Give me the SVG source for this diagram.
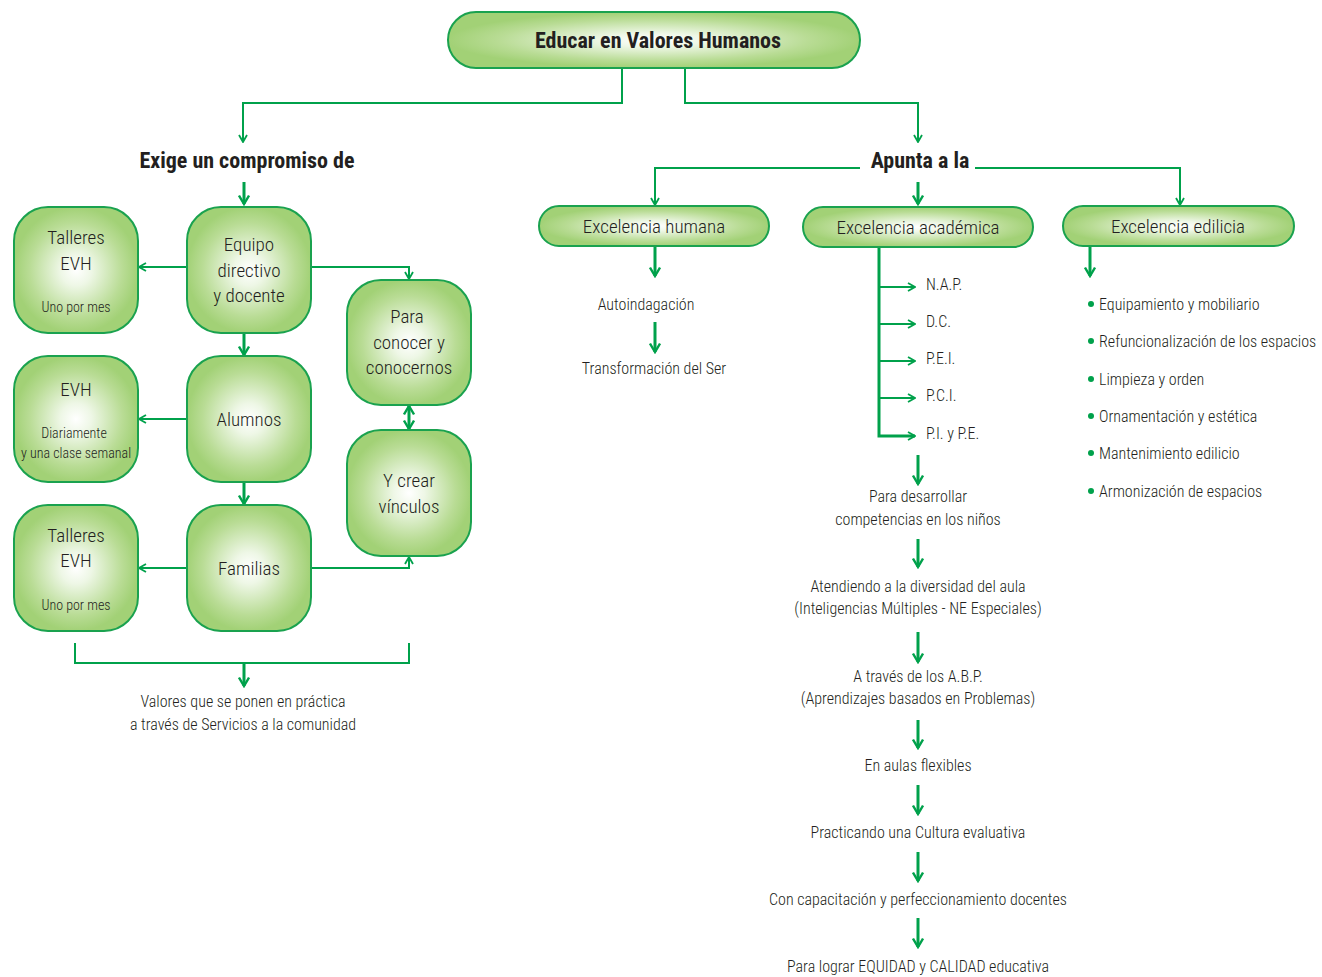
<svg xmlns="http://www.w3.org/2000/svg" width="1322" height="977" viewBox="0 0 1322 977">
<defs>
<radialGradient id="g">
<stop offset="0" stop-color="#ffffff"/>
<stop offset="0.25" stop-color="#eef7e6"/>
<stop offset="0.75" stop-color="#b9dc95"/>
<stop offset="1" stop-color="#a2d176"/>
</radialGradient>
<marker id="ah" viewBox="0 0 10 10" refX="9" refY="5" markerWidth="10" markerHeight="10" markerUnits="userSpaceOnUse" orient="auto">
<path d="M2,1 L9,5 L2,9" fill="none" stroke="#00a14b" stroke-width="1.8"/>
</marker>
<marker id="ah2" viewBox="0 0 12 12" refX="10.5" refY="6" markerWidth="12" markerHeight="12" markerUnits="userSpaceOnUse" orient="auto">
<path d="M2,1 L10.5,6 L2,11" fill="none" stroke="#00a14b" stroke-width="2.4"/>
</marker>
<marker id="as" viewBox="0 0 12 12" refX="10.5" refY="6" markerWidth="12" markerHeight="12" markerUnits="userSpaceOnUse" orient="auto-start-reverse">
<path d="M2,1 L10.5,6 L2,11" fill="none" stroke="#00a14b" stroke-width="2.4"/>
</marker>
</defs>
<style>
text{font-family:"Liberation Sans Narrow","Roboto Condensed","DejaVu Sans Condensed","Liberation Sans",sans-serif;font-stretch:condensed;font-weight:300;fill:#231f20;text-anchor:middle}
.b{font-weight:bold}
.h{font-size:22px}
.t{font-size:16px}
.bx{font-size:19px}
.s{font-size:14px}
.l{text-anchor:start}
.node{fill:url(#g);stroke:#1aa24f;stroke-width:2}
.c{fill:none;stroke:#00a14b;stroke-width:2}
.c2{fill:none;stroke:#00a14b;stroke-width:3}
.dot{fill:#00a14b}
</style>
<rect width="1322" height="977" fill="#ffffff"/>

<g id="connectors">
<path class="c" d="M622,68 V103 H243 V142" marker-end="url(#ah)"/>
<path class="c" d="M685,68 V103 H918 V142" marker-end="url(#ah)"/>
<path class="c2" d="M244,182 V204" marker-end="url(#ah2)"/>
<path class="c2" d="M918,182 V204" marker-end="url(#ah2)"/>
<path class="c" d="M860,168 H655 V205" marker-end="url(#ah)"/>
<path class="c" d="M975,168 H1180 V205" marker-end="url(#ah)"/>
<path class="c" d="M187,267 H139" marker-end="url(#ah)"/>
<path class="c" d="M311,267 H409 V279" marker-end="url(#ah)"/>
<path class="c2" d="M244,333 V355" marker-end="url(#ah2)"/>
<path class="c" d="M187,419 H139" marker-end="url(#ah)"/>
<path class="c2" d="M244,482 V504" marker-end="url(#ah2)"/>
<path class="c" d="M187,568 H139" marker-end="url(#ah)"/>
<path class="c" d="M311,568 H409 V557" marker-end="url(#ah)"/>
<path class="c2" d="M409,406 V429" marker-start="url(#as)" marker-end="url(#as)"/>
<path class="c" d="M75,643 V663 H409 V643"/>
<path class="c2" d="M244,663 V686" marker-end="url(#ah2)"/>
<path class="c2" d="M655,247 V276" marker-end="url(#ah2)"/>
<path class="c2" d="M655,322 V352" marker-end="url(#ah2)"/>
<path class="c2" d="M879,247 V436 H915" marker-end="url(#ah)"/>
<path class="c" d="M879,287 H915" marker-end="url(#ah)"/>
<path class="c" d="M879,324 H915" marker-end="url(#ah)"/>
<path class="c" d="M879,361 H915" marker-end="url(#ah)"/>
<path class="c" d="M879,398 H915" marker-end="url(#ah)"/>
<path class="c2" d="M918,455 V484" marker-end="url(#ah2)"/>
<path class="c2" d="M918,539 V567" marker-end="url(#ah2)"/>
<path class="c2" d="M918,632 V662" marker-end="url(#ah2)"/>
<path class="c2" d="M918,720 V748" marker-end="url(#ah2)"/>
<path class="c2" d="M918,785 V814" marker-end="url(#ah2)"/>
<path class="c2" d="M918,852 V881" marker-end="url(#ah2)"/>
<path class="c2" d="M918,918 V947" marker-end="url(#ah2)"/>
<path class="c2" d="M1090,246 V276" marker-end="url(#ah2)"/>
</g>

<g id="title">
<rect class="node" x="448" y="12" width="412" height="56" rx="28"/>
<text class="b h" x="658" y="48">Educar en Valores Humanos</text>
</g>

<g id="exige"><text class="b" style="font-size:22px" x="247" y="168">Exige un compromiso de</text></g>
<g id="apunta"><text class="b" style="font-size:22px" x="920" y="168">Apunta a la</text></g>

<g id="talleres1">
<rect class="node" x="14" y="207" width="124" height="126" rx="34"/>
<text class="bx" x="76" y="244">Talleres</text>
<text class="bx" x="76" y="270">EVH</text>
<text class="s" x="76" y="312">Uno por mes</text>
</g>
<g id="equipo">
<rect class="node" x="187" y="207" width="124" height="126" rx="34"/>
<text class="bx" x="249" y="251">Equipo</text>
<text class="bx" x="249" y="277">directivo</text>
<text class="bx" x="249" y="302">y docente</text>
</g>
<g id="para">
<rect class="node" x="347" y="280" width="124" height="125" rx="34"/>
<text class="bx" x="407" y="323">Para</text>
<text class="bx" x="409" y="349">conocer y</text>
<text class="bx" x="409" y="374">conocernos</text>
</g>
<g id="evh">
<rect class="node" x="14" y="356" width="124" height="126" rx="34"/>
<text class="bx" x="76" y="396">EVH</text>
<text class="s" x="74" y="438">Diariamente</text>
<text class="s" x="76" y="458">y una clase semanal</text>
</g>
<g id="alumnos">
<rect class="node" x="187" y="356" width="124" height="126" rx="34"/>
<text class="bx" x="249" y="426">Alumnos</text>
</g>
<g id="vinculos">
<rect class="node" x="347" y="430" width="124" height="126" rx="34"/>
<text class="bx" x="409" y="487">Y crear</text>
<text class="bx" x="409" y="513">vínculos</text>
</g>
<g id="talleres2">
<rect class="node" x="14" y="505" width="124" height="126" rx="34"/>
<text class="bx" x="76" y="542">Talleres</text>
<text class="bx" x="76" y="567">EVH</text>
<text class="s" x="76" y="610">Uno por mes</text>
</g>
<g id="familias">
<rect class="node" x="187" y="505" width="124" height="126" rx="34"/>
<text class="bx" x="249" y="575">Familias</text>
</g>
<g id="valores">
<text class="t" x="243" y="707">Valores que se ponen en práctica</text>
<text class="t" x="243" y="730">a través de Servicios a la comunidad</text>
</g>

<g id="exc-humana">
<rect class="node" x="539" y="206" width="230" height="40" rx="20"/>
<text class="bx" x="654" y="233">Excelencia humana</text>
</g>
<g id="exc-academica">
<rect class="node" x="803" y="207" width="230" height="40" rx="20"/>
<text class="bx" x="918" y="234">Excelencia académica</text>
</g>
<g id="exc-edilicia">
<rect class="node" x="1063" y="206" width="231" height="40" rx="20"/>
<text class="bx" x="1178" y="233">Excelencia edilicia</text>
</g>

<g id="humana-items">
<text class="t" x="646" y="310">Autoindagación</text>
<text class="t" x="654" y="374">Transformación del Ser</text>
</g>

<g id="academica-items">
<text class="t l" x="926" y="290">N.A.P.</text>
<text class="t l" x="926" y="327">D.C.</text>
<text class="t l" x="926" y="364">P.E.I.</text>
<text class="t l" x="926" y="401">P.C.I.</text>
<text class="t l" x="926" y="439">P.I. y P.E.</text>
<text class="t" x="918" y="502">Para desarrollar</text>
<text class="t" x="918" y="525">competencias en los niños</text>
<text class="t" x="918" y="592">Atendiendo a la diversidad del aula</text>
<text class="t" x="918" y="614">(Inteligencias Múltiples - NE Especiales)</text>
<text class="t" x="918" y="682">A través de los A.B.P.</text>
<text class="t" x="918" y="704">(Aprendizajes basados en Problemas)</text>
<text class="t" x="918" y="771">En aulas flexibles</text>
<text class="t" x="918" y="838">Practicando una Cultura evaluativa</text>
<text class="t" x="918" y="905">Con capacitación y perfeccionamiento docentes</text>
<text class="t" x="918" y="972">Para lograr EQUIDAD y CALIDAD educativa</text>
</g>

<g id="edilicia-items">
<circle class="dot" cx="1091" cy="304" r="3"/>
<text class="t l" x="1099" y="310">Equipamiento y mobiliario</text>
<circle class="dot" cx="1091" cy="341" r="3"/>
<text class="t l" x="1099" y="347">Refuncionalización de los espacios</text>
<circle class="dot" cx="1091" cy="379" r="3"/>
<text class="t l" x="1099" y="385">Limpieza y orden</text>
<circle class="dot" cx="1091" cy="416" r="3"/>
<text class="t l" x="1099" y="422">Ornamentación y estética</text>
<circle class="dot" cx="1091" cy="453" r="3"/>
<text class="t l" x="1099" y="459">Mantenimiento edilicio</text>
<circle class="dot" cx="1091" cy="491" r="3"/>
<text class="t l" x="1099" y="497">Armonización de espacios</text>
</g>
</svg>
